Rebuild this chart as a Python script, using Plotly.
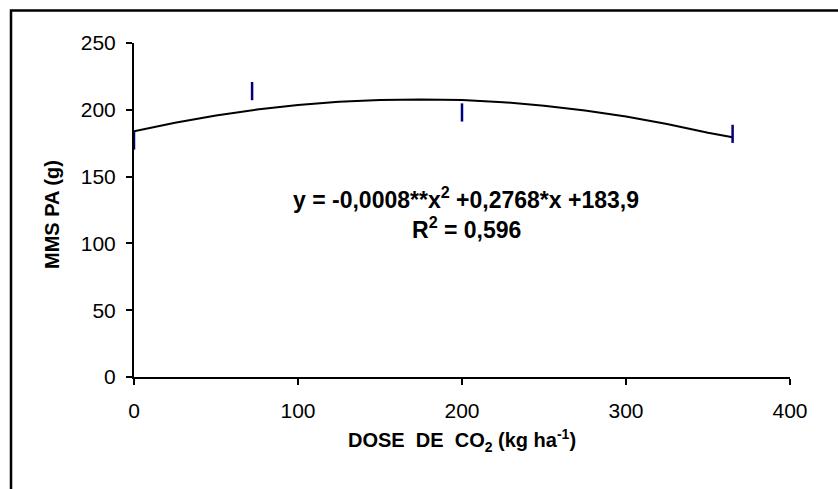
import plotly.graph_objects as go

# observed data points
dose = [0, 72, 200, 365]
mms = [177, 214, 198, 182]

# fitted curve
curve_x = [0, 25, 50, 75, 100, 125, 150, 175, 200, 225, 250, 275, 300, 325, 350, 365]
curve_y = [184.0, 190.3, 195.7, 200.2, 203.6, 206.0, 207.4, 207.8, 207.3, 205.7, 203.1, 199.5, 195.0, 189.4, 182.8, 179.5]

x_ticks = [0, 100, 200, 300, 400]
y_ticks = [0, 50, 100, 150, 200, 250]

FONT = "Liberation Sans, Arial, sans-serif"

fig = go.Figure()
fig.add_trace(go.Scatter(x=curve_x, y=curve_y, mode="lines",
                         line=dict(color="black", width=2), hoverinfo="skip",
                         showlegend=False, cliponaxis=False))
fig.add_trace(go.Scatter(x=dose, y=mms, mode="markers",
                         marker=dict(symbol="line-ns", size=13,
                                     line=dict(color="#000080", width=2.5)),
                         showlegend=False, cliponaxis=False))

fig.update_layout(
    width=838, height=489,
    margin=dict(l=134, r=48, t=43, b=112),
    paper_bgcolor="white", plot_bgcolor="white",
    font=dict(family=FONT, color="black"),
    xaxis=dict(range=[0, 400], tickvals=x_ticks, ticks="outside", ticklen=6,
               tickwidth=2, tickcolor="black", showline=True, linecolor="black",
               linewidth=2, showgrid=False, zeroline=False,
               tickfont=dict(size=21), ticklabelstandoff=8),
    yaxis=dict(range=[0, 250], tickvals=y_ticks, ticks="outside", ticklen=6,
               tickwidth=2, tickcolor="black", showline=True, linecolor="black",
               linewidth=2, showgrid=False, zeroline=False,
               tickfont=dict(size=21), ticklabelstandoff=6),
)

fig.add_annotation(xref="paper", yref="paper", x=(462 - 134) / 656, y=(377 - 440) / 334,
                   text="<b>DOSE  DE  CO<sub>2</sub> (kg ha<sup>-1</sup>)</b>",
                   showarrow=False, font=dict(size=20), xanchor="center", yanchor="middle")
fig.add_annotation(xref="paper", yref="paper", x=(52 - 134) / 656, y=(377 - 215) / 334,
                   text="<b>MMS PA (g)</b>", textangle=-90,
                   showarrow=False, font=dict(size=20), xanchor="center", yanchor="middle")
fig.add_annotation(xref="paper", yref="paper", x=(466 - 134) / 656, y=(377 - 198) / 334,
                   text="<b>y = -0,0008**x<sup>2</sup> +0,2768*x +183,9</b>",
                   showarrow=False, font=dict(size=23), xanchor="center", yanchor="middle")
fig.add_annotation(xref="paper", yref="paper", x=(466 - 134) / 656, y=(377 - 228) / 334,
                   text="<b>R<sup>2</sup> = 0,596</b>",
                   showarrow=False, font=dict(size=23), xanchor="center", yanchor="middle")

# outer chart frame (only top and left edges visible in the window)
fig.add_shape(type="rect", xref="paper", yref="paper",
              x0=(11 - 134) / 656, x1=(860 - 134) / 656,
              y0=(377 - 510) / 334, y1=(377 - 10.5) / 334,
              line=dict(color="black", width=2.5), fillcolor="rgba(0,0,0,0)", layer="below")

fig.write_html("out.html")
